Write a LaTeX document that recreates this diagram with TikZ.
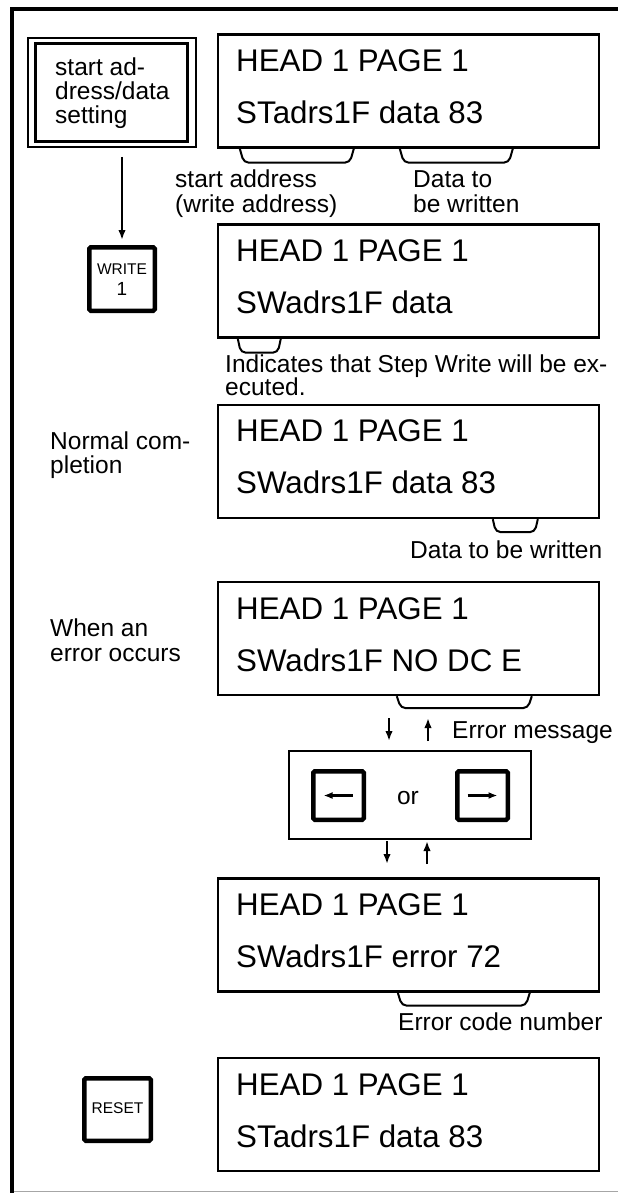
\documentclass[tikz,border=0pt]{standalone}
\usepackage{fontspec}
\setmainfont{Liberation Sans}
\usetikzlibrary{arrows.meta,calc}
\begin{document}
\begin{tikzpicture}[x=1pt,y=-1pt,
 disp/.style={draw,line width=2.4pt,minimum width=381pt,minimum height=113pt,inner sep=0pt},
 dtxt/.style={anchor=base west,inner sep=0pt,font=\fontsize{31.3}{37}\selectfont},
 lbl/.style={anchor=base west,inner sep=0pt,font=\fontsize{24.5}{29}\selectfont},
 keybox/.style={draw,line width=4.5pt,rounded corners=1.5pt,inner sep=0pt},
 ktxt/.style={anchor=base,inner sep=0pt},
 brc/.style={line width=2pt,rounded corners=5pt},
 arr/.style={line width=2.2pt,-{Latex[length=10pt,width=7.5pt]}},
]
\useasboundingbox (0,0) rectangle (618,1193);
% frame
\draw[gray!70,line width=1.5pt] (12,1191.5) -- (618,1191.5);
\draw[line width=4pt,line join=miter] (12,1193) -- (12,9.5) -- (618,9.5);

% start box (double frame)
\node[draw,line width=1.8pt,minimum width=168pt,minimum height=109pt,inner sep=0pt] (sbox) at (112,92.5) {};
\node[draw,line width=2.8pt,minimum width=152pt,minimum height=98pt,inner sep=0pt] (sboxin) at (111.5,92.3) {};
\node[lbl] (s1) at (55,76) {start ad-};
\node[lbl] (s2) at (55,100) {dress/data};
\node[lbl] (s3) at (55,123.5) {setting};

% WRITE key
\node[keybox,minimum width=65.5pt,minimum height=63.5pt] (write) at (122,279) {};
\node[ktxt,font=\fontsize{15.5}{18}\selectfont] (wt) at (122,274.5) {WRITE};
\node[ktxt,font=\fontsize{19}{22}\selectfont] (w1) at (122,295) {1};
\draw[arr,shorten <=9pt,shorten >=5pt] (sbox.south -| write.north) -- (write.north);

% displays
\node[disp] (d1) at (408.5,91) {};
\node[dtxt] (d1a) at (236,72) {HEAD 1 PAGE 1};
\node[dtxt] (d1b) at (236,124) {STadrs1F data 83};

\node[disp] (d2) at (408.5,281) {};
\node[dtxt] (d2a) at (236,261) {HEAD 1 PAGE 1};
\node[dtxt] (d2b) at (236,313) {SWadrs1F data};

\node[disp] (d3) at (408.5,461.5) {};
\node[dtxt] (d3a) at (236,441) {HEAD 1 PAGE 1};
\node[dtxt] (d3b) at (236,493) {SWadrs1F data 83};

\node[disp] (d4) at (408.5,638.5) {};
\node[dtxt] (d4a) at (236,619) {HEAD 1 PAGE 1};
\node[dtxt] (d4b) at (236,671) {SWadrs1F NO DC E};

\node[disp] (d5) at (408.5,935) {};
\node[dtxt] (d5a) at (236,915.5) {HEAD 1 PAGE 1};
\node[dtxt] (d5b) at (236,967.5) {SWadrs1F error 72};

\node[disp] (d6) at (408.5,1114.5) {};
\node[dtxt] (d6a) at (236,1095) {HEAD 1 PAGE 1};
\node[dtxt] (d6b) at (236,1147) {STadrs1F data 83};

% braces
\draw[brc] ($(d1.south west)+(23,0)$) -- ++(4,14) -- ($(d1.south west)+(133,14)$) -- ++(4,-14);
\draw[brc] ($(d1.south west)+(183,0)$) -- ++(4,14) -- ($(d1.south west)+(292,14)$) -- ++(4,-14);
\draw[brc] ($(d2.south west)+(21,0)$) -- ++(3,14) -- ($(d2.south west)+(61,14)$) -- ++(3,-14);
\draw[brc] ($(d3.south west)+(276,0)$) -- ++(3,13) -- ($(d3.south west)+(318,13)$) -- ++(3,-13);
\draw[brc] ($(d4.south west)+(180,0)$) -- ++(4,12) -- ($(d4.south west)+(311,12)$) -- ++(4,-12);
\draw[brc] ($(d5.south west)+(181,0)$) -- ++(4,13) -- ($(d5.south west)+(309,13)$) -- ++(4,-13);

% labels
\node[lbl] (l1) at (175,188) {start address};
\node[lbl] (l2) at (175,212) {(write address)};
\node[lbl] (l3) at (413,188) {Data to};
\node[lbl] (l4) at (413,212) {be written};
\node[lbl] (l5) at (225,372) {Indicates that Step Write will be ex-};
\node[lbl] (l6) at (225,395) {ecuted.};
\node[lbl] (l7) at (50,449) {Normal com-};
\node[lbl] (l8) at (50,473) {pletion};
\node[lbl] (l9) at (410,558) {Data to be written};
\node[lbl] (l10) at (50,636) {When an};
\node[lbl] (l11) at (50,661) {error occurs};
\node[lbl] (l12) at (452,738) {Error message};
\node[lbl] (l13) at (398,1030) {Error code number};

% or box
\node[draw,line width=2pt,minimum width=242pt,minimum height=88pt,inner sep=0pt] (orbox) at (410,795) {};
\node[keybox,minimum width=50.5pt,minimum height=48.5pt] (kl) at (338.5,795.5) {};
\node[keybox,minimum width=50.5pt,minimum height=48.5pt] (kr) at (482.5,795.5) {};
\node[font=\fontsize{24.5}{29}\selectfont,inner sep=0pt] (or) at (408,798) {or};
\draw[line width=2.5pt,-{Latex[length=9pt,width=7pt]}] ($(kl.center)+(14,0)$) -- ($(kl.center)+(-15,0)$);
\draw[line width=2.5pt,-{Latex[length=9pt,width=7pt]}] ($(kr.center)+(-15,0)$) -- ($(kr.center)+(15,0)$);

\coordinate (a1s) at (389,718); \coordinate (a1e) at (389,741);
\coordinate (a2s) at (428,741); \coordinate (a2e) at (428,718);
\coordinate (a3s) at (387,841); \coordinate (a3e) at (387,864);
\coordinate (a4s) at (427,864); \coordinate (a4e) at (427,841);
\draw[arr] (a1s) -- (a1e);
\draw[arr] (a2s) -- (a2e);
\draw[arr] (a3s) -- (a3e);
\draw[arr] (a4s) -- (a4e);

% RESET key
\node[keybox,minimum width=66.5pt,minimum height=62.5pt] (reset) at (117.5,1109.5) {};
\node[ktxt,font=\fontsize{15.5}{18}\selectfont] (rt) at (117.5,1113.5) {RESET};
\end{tikzpicture}
\end{document}
